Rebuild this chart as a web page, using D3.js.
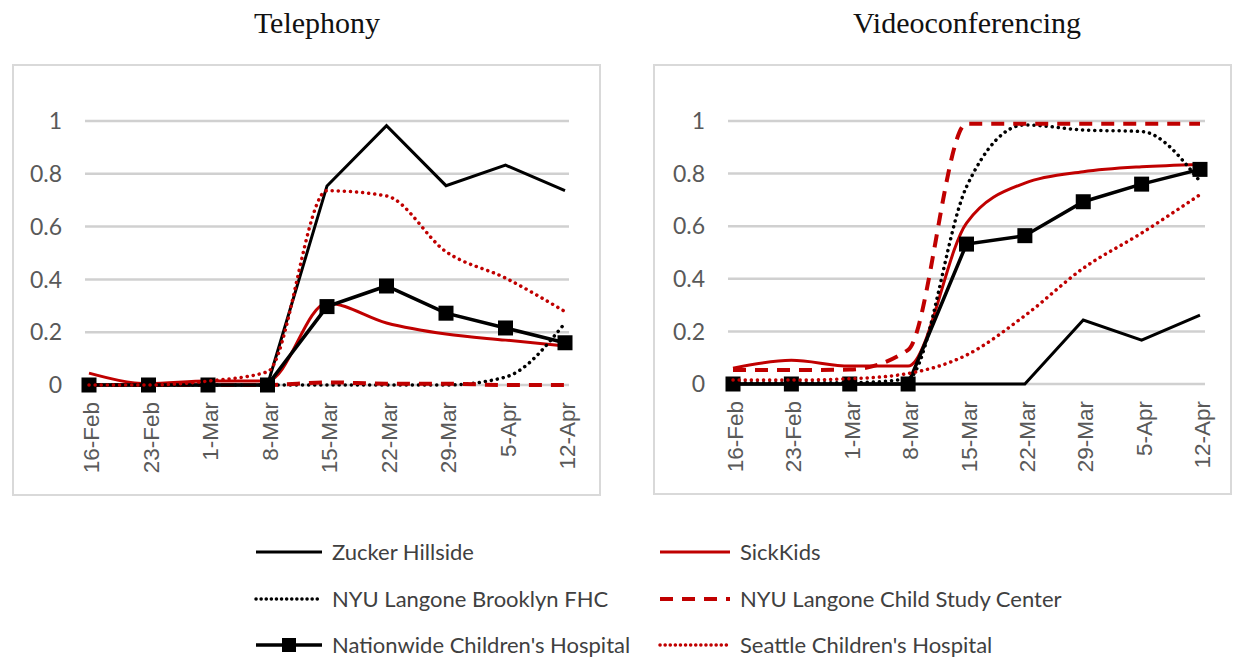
<!DOCTYPE html>
<html>
<head>
<meta charset="utf-8">
<script src="https://cdn.jsdelivr.net/npm/d3@7"></script>
<style>
  body { margin: 0; background: #fff; }
  svg { display: block; }
</style>
</head>
<body>
<div id="chart"></div>
<script>
// weeks on the x axis
var weeks = ['16-Feb', '23-Feb', '1-Mar', '8-Mar', '15-Mar', '22-Mar', '29-Mar', '5-Apr', '12-Apr'];
var yTicks = [0, 0.2, 0.4, 0.6, 0.8, 1];

var seriesNames = ['Zucker Hillside', 'SickKids', 'NYU Langone Brooklyn FHC',
  'NYU Langone Child Study Center', "Nationwide Children's Hospital", "Seattle Children's Hospital"];

// Telephony
var telZucker     = [0, 0, 0, 0, 0.754, 0.982, 0.755, 0.833, 0.736];
var telSickKids   = [0.045, 0.005, 0.015, 0.015, 0.31, 0.235, 0.193, 0.17, 0.148];
var telBrooklyn   = [0, 0, 0, 0, 0, 0, 0, 0.03, 0.235];
var telChildStudy = [0, 0, 0, 0, 0.01, 0.005, 0.005, 0, 0];
var telNationwide = [0, 0, 0, 0, 0.297, 0.375, 0.272, 0.216, 0.16];
var telSeattle    = [0, 0, 0.015, 0.05, 0.736, 0.716, 0.505, 0.405, 0.278];

// Videoconferencing
var vidZucker     = [0, 0, 0, 0, 0, 0, 0.243, 0.167, 0.262];
var vidSickKids   = [0.06, 0.09, 0.068, 0.068, 0.612, 0.764, 0.807, 0.826, 0.835];
var vidBrooklyn   = [0.005, 0.005, 0.005, 0.02, 0.75, 0.985, 0.966, 0.96, 0.77];
var vidChildStudy = [0.053, 0.053, 0.055, 0.13, 0.99, 0.99, 0.99, 0.99, 0.99];
var vidNationwide = [0, 0, 0, 0, 0.532, 0.564, 0.693, 0.76, 0.816];
var vidSeattle    = [0.015, 0.015, 0.02, 0.04, 0.11, 0.26, 0.44, 0.574, 0.72];

var red = '#c00000';
// line style per series (same order as seriesNames)
var styles = [
  {color: '#000', width: 3, dash: null, smooth: false, marker: false},
  {color: red, width: 3, dash: null, smooth: true, marker: false},
  {color: '#000', width: 3.5, dash: '0.1 6', cap: 'round', smooth: true, marker: false},
  {color: red, width: 4, dash: '13 9', smooth: true, marker: false},
  {color: '#000', width: 3.5, dash: null, smooth: false, marker: true},
  {color: red, width: 3.5, dash: '0.1 6', cap: 'round', smooth: true, marker: false}
];

var W = 1233, H = 657;
var svg = d3.select('#chart').append('svg').attr('width', W).attr('height', H);

function drawPanel(p) {
  var g = svg.append('g');

  g.append('rect')
    .attr('x', p.frame[0]).attr('y', p.frame[1])
    .attr('width', p.frame[2] - p.frame[0]).attr('height', p.frame[3] - p.frame[1])
    .attr('fill', '#fff').attr('stroke', '#d9d9d9').attr('stroke-width', 2);

  g.append('text')
    .attr('x', p.titleX).attr('y', 33)
    .attr('text-anchor', 'middle')
    .style('font-family', '"Liberation Serif", "Times New Roman", serif')
    .style('font-size', '30px')
    .attr('fill', '#111')
    .text(p.title);

  var x = d3.scalePoint().domain(weeks).range(p.xRange);
  var y = d3.scaleLinear().domain([0, 1]).range(p.yRange);

  // gridlines
  g.selectAll('.grid').data(yTicks).enter().append('line')
    .attr('x1', p.gridX[0]).attr('x2', p.gridX[1])
    .attr('y1', d => y(d)).attr('y2', d => y(d))
    .attr('stroke', '#d0d0d0').attr('stroke-width', 2.5);

  // y labels
  g.selectAll('.ylab').data(yTicks).enter().append('text')
    .attr('x', p.gridX[0] - 23).attr('y', d => y(d)).attr('dy', '0.36em')
    .attr('text-anchor', 'end')
    .style('font-family', 'Lato, "Open Sans", sans-serif')
    .style('font-size', '23px')
    .attr('fill', '#595959')
    .text(d => d3.format('~g')(d));

  // x labels, rotated
  g.selectAll('.xlab').data(weeks).enter().append('text')
    .attr('transform', d => 'translate(' + (x(d) + 2) + ',' + (y(0) + 17) + ') rotate(-90)')
    .attr('dy', '0.36em')
    .attr('text-anchor', 'end')
    .style('font-family', '"Liberation Sans", Arial, sans-serif')
    .style('font-size', '22.5px')
    .attr('fill', '#595959')
    .text(d => d);

  var straight = d3.line().x((d, i) => x(weeks[i])).y(d => y(d));
  var smooth = d3.line().x((d, i) => x(weeks[i])).y(d => y(d)).curve(d3.curveMonotoneX);

  p.series.forEach(function(vals, k) {
    var s = styles[k];
    g.append('path')
      .attr('d', (s.smooth ? smooth : straight)(vals))
      .attr('fill', 'none')
      .attr('stroke', s.color)
      .attr('stroke-width', s.width)
      .attr('stroke-dasharray', s.dash)
      .attr('stroke-linecap', s.cap || 'butt')
      .attr('stroke-linejoin', 'miter');
    if (s.marker) {
      g.selectAll('.mk' + k).data(vals).enter().append('rect')
        .attr('x', (d, i) => x(weeks[i]) - 7.5)
        .attr('y', d => y(d) - 7.5)
        .attr('width', 15).attr('height', 15)
        .attr('fill', '#000');
    }
  });
}

drawPanel({
  title: 'Telephony', titleX: 317,
  frame: [13, 65, 600, 495],
  gridX: [85, 569], xRange: [89, 565], yRange: [385, 121],
  series: [telZucker, telSickKids, telBrooklyn, telChildStudy, telNationwide, telSeattle]
});

drawPanel({
  title: 'Videoconferencing', titleX: 967,
  frame: [654, 65, 1231, 494],
  gridX: [728, 1205], xRange: [733, 1200], yRange: [384, 121],
  series: [vidZucker, vidSickKids, vidBrooklyn, vidChildStudy, vidNationwide, vidSeattle]
});

// legend: two columns, three rows
var legend = svg.append('g');
var legX = [256, 660], legY = [552, 599, 645];
seriesNames.forEach(function(name, k) {
  var s = styles[k];
  var lx = legX[k % 2], ly = legY[Math.floor(k / 2)];
  var len = k % 2 === 0 ? 66 : 70;
  legend.append('line')
    .attr('x1', lx).attr('x2', lx + len).attr('y1', ly).attr('y2', ly)
    .attr('stroke', s.color).attr('stroke-width', s.width)
    .attr('stroke-dasharray', s.dash === '13 9' ? '13 9' : s.dash ? '0.1 5' : null)
    .attr('stroke-linecap', s.cap || 'butt');
  if (s.marker) {
    legend.append('rect')
      .attr('x', lx + len / 2 - 7).attr('y', ly - 7)
      .attr('width', 14).attr('height', 14).attr('fill', '#000');
  }
  legend.append('text')
    .attr('x', lx + len + 10).attr('y', ly).attr('dy', '0.36em')
    .style('font-family', 'Lato, "Open Sans", sans-serif')
    .style('font-size', '22px')
    .attr('fill', '#404040')
    .text(name);
});
</script>
</body>
</html>
